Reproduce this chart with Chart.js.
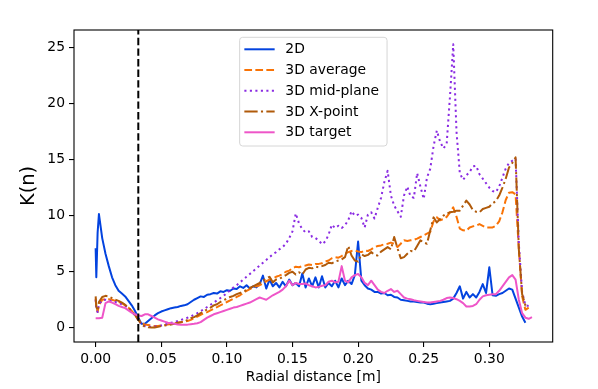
<!DOCTYPE html>
<html>
<head>
<meta charset="utf-8">
<script src="https://cdn.jsdelivr.net/npm/chart.js@4.4.1/dist/chart.umd.min.js"></script>
<style>
  html, body { margin: 0; padding: 0; background: #fff; }
  #wrap { width: 598px; height: 389px; }
</style>
</head>
<body>
<div id="wrap"><canvas id="chart" width="598" height="389"></canvas></div>
<script>
// radial positions of the samples [m]
var radius = [
    0, 0.0005, 0.0015,
    0.0025, 0.005, 0.0075, 0.01, 0.0125, 0.015, 0.0175, 0.02, 0.0225, 0.025,
    0.0275, 0.03, 0.0325, 0.035, 0.0375, 0.04, 0.0425, 0.045, 0.0475, 0.05,
    0.0525, 0.055, 0.0575, 0.06, 0.0625, 0.065, 0.0675, 0.07, 0.0725, 0.075,
    0.0775, 0.08, 0.0825, 0.085, 0.0875, 0.09, 0.0925, 0.095, 0.0975, 0.1,
    0.1025, 0.105, 0.1075, 0.11, 0.1125, 0.115, 0.1175, 0.12, 0.1225, 0.125,
    0.1275, 0.13, 0.1325, 0.135, 0.1375, 0.14, 0.1425, 0.145, 0.1475, 0.15,
    0.1525, 0.155, 0.1575, 0.16, 0.1625, 0.165, 0.1675, 0.17, 0.1725, 0.175,
    0.1775, 0.18, 0.1825, 0.185, 0.1875, 0.19, 0.1925, 0.195, 0.1975, 0.2,
    0.2025, 0.205, 0.2075, 0.21, 0.2125, 0.215, 0.2175, 0.22, 0.2225, 0.225,
    0.2275, 0.23, 0.2325, 0.235, 0.2375, 0.24, 0.2425, 0.245, 0.2475, 0.25,
    0.2525, 0.255, 0.2575, 0.26, 0.2625, 0.265, 0.2675, 0.27, 0.2725, 0.275,
    0.2775, 0.28, 0.2825, 0.285, 0.2875, 0.29, 0.2925, 0.295, 0.2975, 0.3,
    0.3025, 0.305, 0.3075, 0.31, 0.3125, 0.315, 0.3175, 0.32, 0.3225, 0.325,
    0.3275, 0.33, 0.3325
];

var k2D = [
    7.1, 4.5, 8.5,
    10.15, 8.0, 6.6, 5.5, 4.5, 3.8, 3.3, 3.05, 2.8, 2.4,
    2.0, 1.5, 0.9, 0.35, 0.35, 0.6, 0.85, 1.1, 1.3, 1.45,
    1.55, 1.65, 1.75, 1.8, 1.85, 1.95, 2.0, 2.1, 2.3, 2.5,
    2.65, 2.8, 2.75, 2.95, 3.0, 3.1, 3.05, 3.25, 3.2, 3.35,
    3.3, 3.5, 3.45, 3.7, 3.55, 3.8, 3.5, 3.7, 3.6, 3.9,
    4.65, 3.5, 4.3, 3.7, 4.0, 3.6, 4.1, 3.7, 4.3, 3.8,
    4.0, 3.7, 4.85, 3.6, 4.4, 3.7, 4.5, 3.6, 4.6, 3.6,
    4.0, 3.7, 4.2, 3.6, 4.4, 3.8, 4.2, 3.9, 4.7, 7.7,
    4.2, 3.8, 3.5, 3.4, 3.2, 3.2, 3.05, 3.1, 2.9, 2.95,
    2.75, 2.7, 2.5, 2.45, 2.4, 2.35, 2.35, 2.3, 2.25, 2.25,
    2.15, 2.1, 2.15, 2.2, 2.25, 2.3, 2.35, 2.4, 2.6, 3.1,
    3.7, 2.6, 3.2, 2.7, 3.0, 2.7, 3.2, 3.9, 3.1, 5.4,
    2.9, 2.85, 3.0, 3.1, 3.3, 3.5, 3.4, 2.6, 1.8, 1.0,
    0.45, null, null
];

var k3DAverage = [
    2.6, 1.8, 1.4,
    2.0, 2.5, 2.55, 2.55, 2.5, 2.4, 2.3, 2.2, 2.0, 1.8,
    1.5, 1.15, 0.75, 0.4, 0.3, 0.25, 0.2, 0.15, 0.15, 0.2,
    0.25, 0.3, 0.35, 0.4, 0.45, 0.5, 0.55, 0.6, 0.7, 0.85,
    1.0, 1.15, 1.3, 1.4, 1.55, 1.7, 1.85, 2.0, 2.15, 2.3,
    2.45, 2.6, 2.75, 2.9, 3.1, 3.3, 3.45, 3.6, 3.7, 3.8,
    3.95, 4.15, 4.3, 4.4, 4.55, 4.65, 4.8, 5.0, 5.1, 5.3,
    5.45, 5.4, 5.5, 5.55, 5.65, 5.6, 5.7, 5.7, 5.75, 5.9,
    6.0, 6.2, 6.3, 6.25, 6.4, 6.6, 6.75, 6.85, 6.9, 6.8,
    6.75, 6.9, 6.85, 7.0, 7.2, 7.3, 7.35, 7.45, 7.5, 7.6,
    7.5, 7.2, 7.5, 7.8, 7.75, 7.8, 7.85, 7.95, 8.1, 8.25,
    8.4, 8.55, 9.5, 9.85, 9.6, 9.7, 9.9, 10.3, 10.75, 9.9,
    8.85, 8.7, 8.65, 8.95, 9.05, 9.1, 9.25, 9.1, 8.95, 8.95,
    8.95, 9.1, 9.5, 10.3, 11.4, 12.05, 12.1, 11.9, 7.0, 2.8,
    1.6, 1.8, null
];

var k3DMidPlane = [
    2.5, 1.7, 1.4,
    2.1, 2.45, 2.5, 2.45, 2.35, 2.3, 2.2, 2.1, 1.95, 1.75,
    1.45, 1.1, 0.7, 0.3, 0.15, 0.1, 0.1, 0.12, 0.15, 0.2,
    0.28, 0.35, 0.45, 0.5, 0.6, 0.7, 0.8, 0.9, 1.0, 1.15,
    1.3, 1.5, 1.65, 1.85, 2.05, 2.25, 2.45, 2.65, 2.85, 3.1,
    3.35, 3.6, 3.8, 4.05, 4.3, 4.55, 4.8, 5.05, 5.3, 5.55,
    5.8, 6.05, 6.3, 6.55, 6.75, 7.0, 7.2, 7.5, 8.0, 8.6,
    10.2, 9.3, 8.8, 8.5, 8.6, 8.1, 8.0, 7.8, 7.45, 7.7,
    8.3, 9.2, 8.9, 9.1, 8.9, 9.15, 9.6, 10.4, 10.0, 10.1,
    9.8, 8.95, 10.1, 10.3, 9.75, 10.7, 11.6, 13.0, 14.0, 11.8,
    10.9, 10.4, 9.9, 11.8, 12.6, 11.7, 11.6, 13.8, 12.6, 11.5,
    13.4, 14.2, 16.2, 17.6, 16.6, 16.0, 16.4, 20.6, 25.3, 17.5,
    13.8, 13.2, 13.6, 13.9, 14.4, 14.45, 13.7, 13.3, 12.9, 12.5,
    12.2, 12.1, 12.6, 13.4, 14.2, 14.7, 14.9, 15.1, 7.5, 3.2,
    2.0, 1.95, null
];

var k3DXPoint = [
    2.8, 1.9, 1.5,
    2.3, 2.75, 2.85, 2.8, 2.65, 2.5, 2.4, 2.25, 2.05, 1.8,
    1.5, 1.15, 0.7, 0.3, 0.1, 0.05, 0.02, 0.03, 0.08, 0.15,
    0.2, 0.25, 0.3, 0.35, 0.45, 0.5, 0.55, 0.7, 0.85, 0.95,
    1.1, 1.3, 1.45, 1.65, 1.8, 2.0, 2.1, 2.3, 2.45, 2.6,
    2.75, 2.85, 3.0, 3.1, 3.25, 3.35, 3.55, 3.7, 3.85, 4.0,
    4.2, 4.4, 4.55, 4.05, 4.3, 4.35, 4.55, 4.7, 4.9, 5.0,
    4.75, 4.95, 4.75, 5.2, 5.35, 5.3, 5.45, 5.4, 5.5, 5.6,
    5.8, 5.75, 5.9, 6.0, 6.1, 6.3, 7.3, 6.45, 6.0, 5.9,
    6.55, 6.4, 6.5, 6.75, 6.5, 6.45, 6.8, 7.0, 7.2, 7.0,
    8.1, 7.1, 6.2, 6.3, 6.6, 6.85, 6.8, 7.3, 7.8, 7.6,
    7.5, 8.7, 9.85, 9.4, 9.7, 10.0, 10.2, 10.3, 10.35, 10.45,
    10.45, 10.9, 11.35, 11.0, 10.5, 10.35, 10.3, 10.6, 10.7, 10.8,
    11.1, 11.3, 11.8, 12.5, 13.3, 14.3, 14.7, 15.2, 7.0, 3.0,
    2.0, 2.1, null
];

var k3DTarget = [
    0.85, 0.85, 0.85,
    0.85, 0.9, 2.2, 2.35, 2.25, 2.1, 1.95, 1.85, 1.75, 1.55,
    1.35, 1.2, 1.1, 1.05, 1.2, 1.2, 1.05, 0.9, 0.75, 0.65,
    0.55, 0.45, 0.4, 0.35, 0.3, 0.28, 0.27, 0.28, 0.32, 0.35,
    0.4, 0.5, 0.7, 0.9, 1.05, 1.2, 1.3, 1.4, 1.5, 1.6,
    1.7, 1.8, 1.85, 1.95, 2.05, 2.15, 2.25, 2.4, 2.55, 2.7,
    2.6, 2.5, 2.7, 2.9, 3.05, 3.2, 3.4, 3.7, 4.2, 3.8,
    4.0, 3.9, 3.9, 3.95, 3.8, 3.7, 3.6, 3.65, 3.75, 3.8,
    4.1, 4.2, 4.05, 4.1, 5.5, 4.2, 4.05, 4.5, 4.7, 4.8,
    4.5, 4.0, 3.8, 4.2, 3.8, 3.4, 3.2, 3.1, 3.3, 3.45,
    3.2, 3.3, 3.0, 2.7, 2.6, 2.55, 2.45, 2.4, 2.35, 2.3,
    2.25, 2.25, 2.3, 2.35, 2.4, 2.5, 2.65, 2.7, 2.65, 2.55,
    2.4, 2.2, 1.9, 1.9, 1.95, 2.1, 2.5, 2.8, 2.9, 2.95,
    3.0, 3.0, 3.3, 3.7, 4.1, 4.5, 4.7, 4.3, 2.5, 1.3,
    0.9, 0.8, 0.95
];

// separatrix position [m]
var separatrix = 0.0325;

var xTicks = [0, 0.05, 0.10, 0.15, 0.20, 0.25, 0.30];
var yTicks = [0, 5, 10, 15, 20, 25];
var xRange = [-0.0165, 0.3483];
var yRange = [-1.27, 26.57];

var FONT = "'DejaVu Sans', sans-serif";

function toPoints(values) {
    return radius.map(function(r, i) {
        return { x: r, y: values[i] };
    });
}

function series(label, values, color, dash, order) {
    return {
        label: label,
        data: toPoints(values),
        borderColor: color,
        backgroundColor: color,
        borderWidth: 2,
        borderDash: dash,
        borderCapStyle: 'butt',
        borderJoinStyle: 'round',
        pointRadius: 0,
        tension: 0,
        fill: false,
        order: order
    };
}

var datasets = [
    series('2D', k2D, '#0343df', [], 5),
    series('3D average', k3DAverage, '#f97306', [7.7, 3.3], 4),
    series('3D mid-plane', k3DMidPlane, '#8a2be2', [2.1, 3.4], 3),
    series('3D X-point', k3DXPoint, '#b05a0a', [13.3, 3.3, 2.1, 3.3], 2),
    series('3D target', k3DTarget, '#ee55c8', [], 1),
    {
        label: 'separatrix',
        data: [{ x: separatrix, y: yRange[0] }, { x: separatrix, y: yRange[1] }],
        borderColor: '#000',
        borderWidth: 2,
        borderDash: [7.4, 3.2],
        pointRadius: 0,
        fill: false,
        order: 0,
        isGuide: true
    }
];

// black frame round the plot, like matplotlib spines
var frame = {
    id: 'frame',
    afterDatasetsDraw: function(chart) {
        var a = chart.chartArea, ctx = chart.ctx;
        ctx.save();
        ctx.strokeStyle = '#000';
        ctx.lineWidth = 1.1;
        ctx.setLineDash([]);
        ctx.strokeRect(a.left, a.top, a.right - a.left, a.bottom - a.top);
        ctx.restore();
    }
};

// legend box in upper centre of the plot
var legendBox = {
    id: 'legendBox',
    afterDraw: function(chart) {
        var a = chart.chartArea, ctx = chart.ctx;
        var w = 147.4, h = 108.7, r = 3;
        var left = (a.left + a.right) / 2 - w / 2;
        var top = a.top + 7.3;
        ctx.save();
        ctx.beginPath();
        ctx.moveTo(left + r, top);
        ctx.arcTo(left + w, top, left + w, top + h, r);
        ctx.arcTo(left + w, top + h, left, top + h, r);
        ctx.arcTo(left, top + h, left, top, r);
        ctx.arcTo(left, top, left + w, top, r);
        ctx.closePath();
        ctx.fillStyle = 'rgba(255,255,255,0.8)';
        ctx.fill();
        ctx.strokeStyle = '#d6d6d6';
        ctx.lineWidth = 1;
        ctx.stroke();

        var entries = chart.data.datasets.filter(function(d) { return !d.isGuide; });
        ctx.font = '13.9px ' + FONT;
        ctx.textBaseline = 'middle';
        ctx.textAlign = 'left';
        entries.forEach(function(d, i) {
            var y = top + 12 + i * 20.75;
            ctx.beginPath();
            ctx.setLineDash(d.borderDash);
            ctx.lineCap = 'butt';
            ctx.strokeStyle = d.borderColor;
            ctx.lineWidth = d.borderWidth;
            ctx.moveTo(left + 4.7, y);
            ctx.lineTo(left + 35, y);
            ctx.stroke();
            ctx.setLineDash([]);
            ctx.fillStyle = '#000';
            ctx.fillText(d.label, left + 45.7, y + 0.5);
        });
        ctx.restore();
    }
};

new Chart(document.getElementById('chart'), {
    type: 'line',
    data: { datasets: datasets },
    options: {
        responsive: false,
        animation: false,
        devicePixelRatio: 1,
        layout: { padding: { left: 0, right: 45.3, top: 30, bottom: 0 } },
        plugins: { legend: { display: false }, tooltip: { enabled: false } },
        scales: {
            x: {
                type: 'linear',
                min: xRange[0],
                max: xRange[1],
                afterBuildTicks: function(scale) {
                    scale.ticks = xTicks.map(function(v) { return { value: v }; });
                },
                afterFit: function(scale) { scale.height = 47; },
                ticks: {
                    autoSkip: false,
                    maxRotation: 0,
                    padding: 4,
                    color: '#000',
                    font: { family: FONT, size: 13.9 },
                    callback: function(v) { return v.toFixed(2); }
                },
                grid: {
                    drawOnChartArea: false,
                    drawTicks: true,
                    tickLength: 5,
                    color: '#000',
                    lineWidth: 1.1
                },
                border: { display: false },
                title: {
                    display: true,
                    text: 'Radial distance [m]',
                    color: '#000',
                    font: { family: FONT, size: 13.9 },
                    padding: { top: 0, bottom: 3.7 }
                }
            },
            y: {
                type: 'linear',
                min: yRange[0],
                max: yRange[1],
                afterBuildTicks: function(scale) {
                    scale.ticks = yTicks.map(function(v) { return { value: v }; });
                },
                afterFit: function(scale) { scale.width = 74; },
                ticks: {
                    autoSkip: false,
                    padding: 4,
                    color: '#000',
                    font: { family: FONT, size: 13.9 },
                    callback: function(v) { return String(v); }
                },
                grid: {
                    drawOnChartArea: false,
                    drawTicks: true,
                    tickLength: 5,
                    color: '#000',
                    lineWidth: 1.1
                },
                border: { display: false },
                title: {
                    display: true,
                    text: 'K(n)',
                    color: '#000',
                    font: { family: FONT, size: 19.4 },
                    padding: { top: 17.4, bottom: 0 }
                }
            }
        }
    },
    plugins: [frame, legendBox]
});
</script>
</body>
</html>
